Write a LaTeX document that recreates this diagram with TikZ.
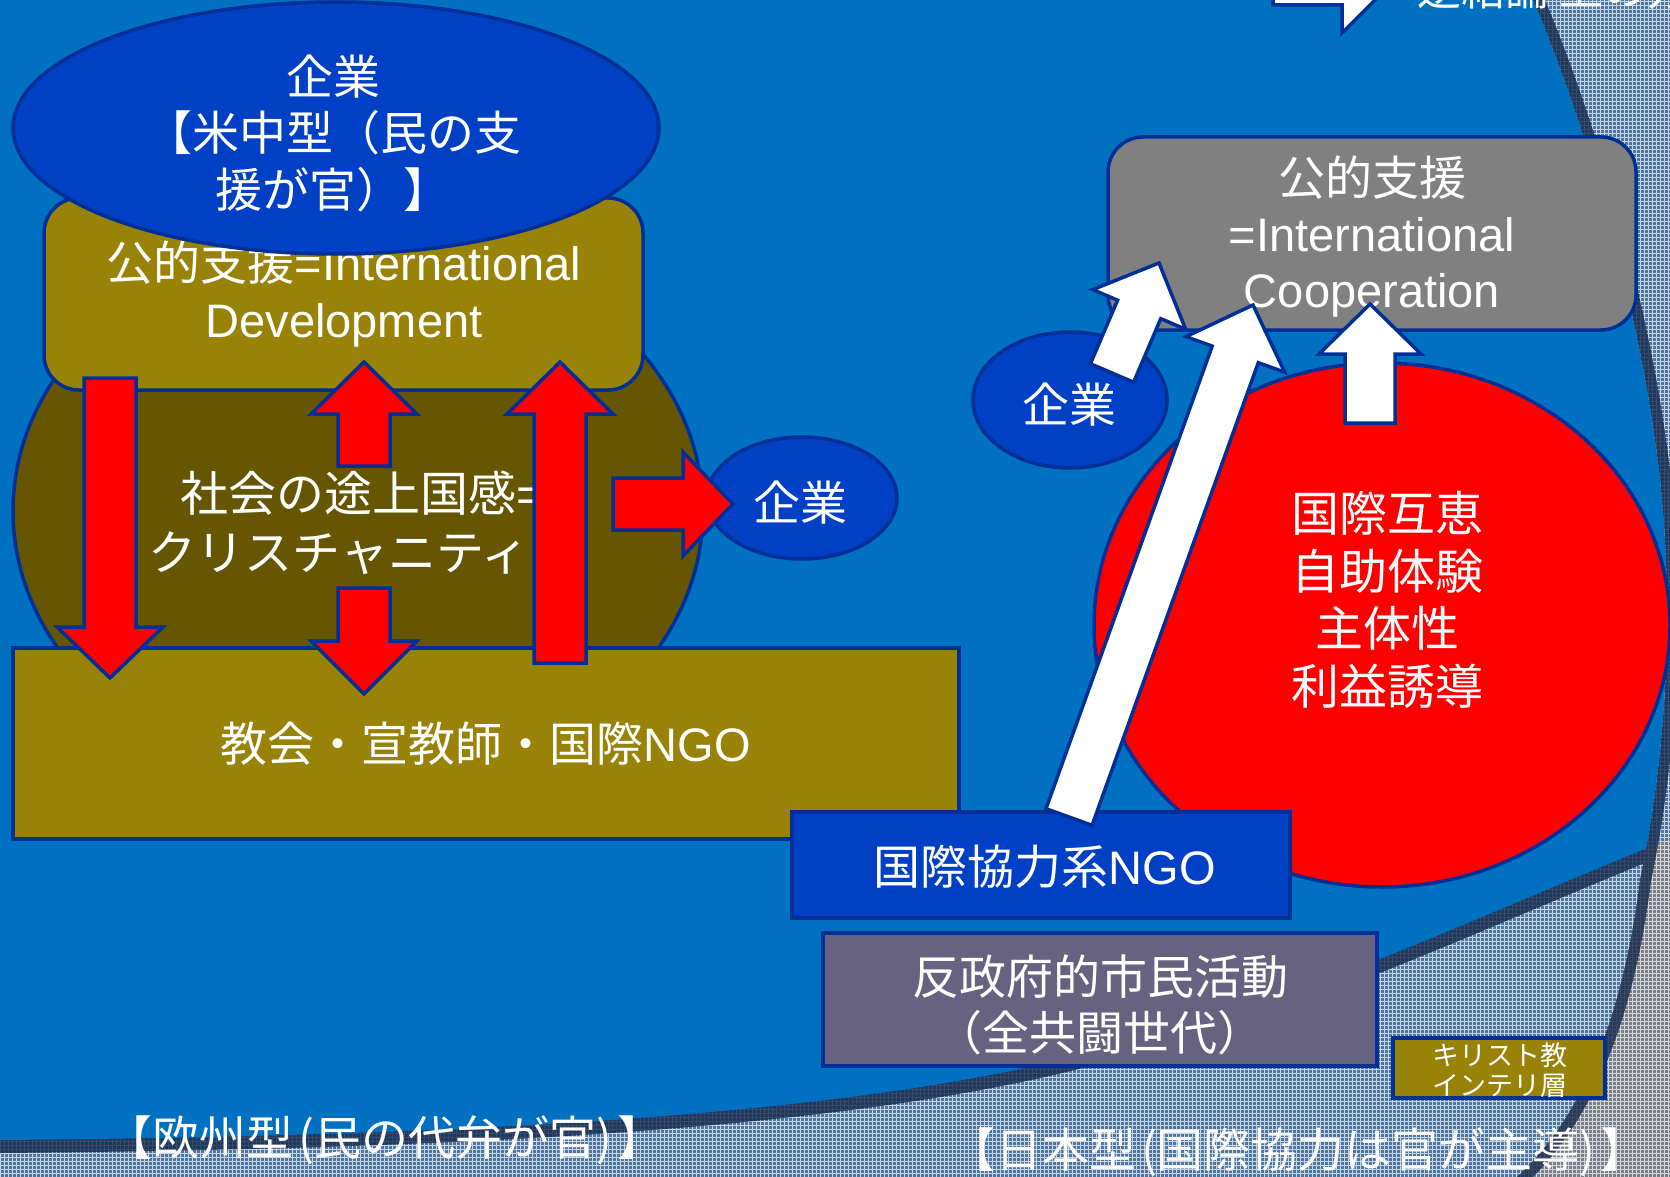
\documentclass[tikz,border=0pt]{standalone}
\usepackage{fontspec}
\setmainfont{Liberation Sans}
\newfontfamily\cjk{Noto Sans CJK JP}
\usetikzlibrary{shapes.geometric,calc,patterns}

\definecolor{bgblue}{RGB}{0,112,192}
\definecolor{navy}{RGB}{0,48,150}
\definecolor{ellblue}{RGB}{0,64,196}
\definecolor{olive}{RGB}{153,130,8}
\definecolor{darkolive}{RGB}{102,86,2}
\definecolor{boxgray}{RGB}{128,128,128}
\definecolor{slate}{RGB}{102,98,128}
\definecolor{hbase}{RGB}{78,118,160}
\definecolor{hline}{RGB}{200,214,228}
\definecolor{gbase}{RGB}{122,128,136}
\definecolor{gline}{RGB}{214,214,218}
\definecolor{shadowc}{RGB}{20,40,75}

\pgfdeclarepatternformonly{finegrid}{\pgfqpoint{-1pt}{-1pt}}{\pgfqpoint{5pt}{5pt}}{\pgfqpoint{4pt}{4pt}}{%
  \pgfsetlinewidth{0.9pt}%
  \pgfpathmoveto{\pgfqpoint{0pt}{-0.1pt}}\pgfpathlineto{\pgfqpoint{0pt}{4.1pt}}%
  \pgfpathmoveto{\pgfqpoint{-0.1pt}{0pt}}\pgfpathlineto{\pgfqpoint{4.1pt}{0pt}}%
  \pgfusepath{stroke}}

% block arrow: #1 style, #2 tail, #3 tip, #4 shaft half, #5 head half, #6 head length
\newcommand\blockarr[6]{%
  \coordinate (#2h) at ($(#3)!#6pt!(#2)$);
  \draw[#1] ($(#2)!#4pt!90:(#3)$) -- ($(#2h)!#4pt!90:(#3)$) -- ($(#2h)!#5pt!90:(#3)$)
    -- (#3) -- ($(#2h)!#5pt!-90:(#3)$) -- ($(#2h)!#4pt!-90:(#3)$) -- ($(#2)!#4pt!-90:(#3)$) -- cycle;}

\begin{document}
\begin{tikzpicture}[x=1pt,y=-1pt,
  outl/.style={draw=navy, line width=3.5},
  wtxt/.style={text=white, inner sep=0pt, align=center},
  redarr/.style={fill=red, draw=navy, line width=3.5, line join=miter},
  whitearr/.style={fill=white, draw=navy, line width=3.5, line join=miter},
  hatchblue/.style={preaction={fill=hbase}, pattern=finegrid, pattern color=hline},
  hatchgray/.style={preaction={fill=gbase}, pattern=finegrid, pattern color=gline},
  band/.style={draw=shadowc, draw opacity=0.8, line width=26},
  shapebox/.style={rectangle, inner sep=0pt, outl},
  shapeell/.style={ellipse, inner sep=0pt, outl}]
\useasboundingbox (0,0) rectangle (1670,1177);
\def\pRline{(1520,-40) -- (1533,0) .. controls (1580,110) and (1640,300) .. (1660,480)
  .. controls (1675,620) and (1665,760) .. (1640,880)
  .. controls (1625,1000) and (1590,1110) .. (1517,1177) -- (1480,1230)}
\def\pBline{(-40,1141) -- (0,1140) .. controls (450,1136) and (850,1118) .. (1100,1050)
  .. controls (1300,1005) and (1500,905) .. (1700,827) -- (1760,800)}
\def\pBlue{(-60,-60) -- (1520,-60) -- (1520,-40) -- (1533,0) .. controls (1580,110) and (1640,300) .. (1660,480)
  .. controls (1675,620) and (1665,760) .. (1640,880)
  .. controls (1625,1000) and (1590,1110) .. (1517,1177) -- (1480,1230) -- (-60,1240) -- cycle}
\def\pAbove{(-60,-60) -- (-60,1141) -- (0,1140) .. controls (450,1136) and (850,1118) .. (1100,1050)
  .. controls (1300,1005) and (1500,905) .. (1700,827) -- (1760,800) -- (1760,-60) -- cycle}
\begin{scope}
\clip (0,0) rectangle (1670,1177);
% ---------- background ----------
\path[hatchgray] (0,0) rectangle (1670,1177);
\path[hatchblue] \pBlue;
\path[hatchblue] \pAbove;
\begin{scope}[even odd rule]
  \clip (-100,-100) rectangle (1800,1300) \pBlue;
  \draw[band, line width=22] \pRline;
\end{scope}
\begin{scope}
  \clip \pBlue;
  \draw[band] \pBline;
\end{scope}
\begin{scope}
  \clip \pAbove;
  \fill[bgblue] \pBlue;
\end{scope}

% ---------- top cut arrow and text ----------
\coordinate (tat) at (1273,-25);
\coordinate (tap) at (1400,-25);
\blockarr{whitearr}{tat}{tap}{30}{58}{58}
\node[text=white, inner sep=0pt, anchor=base west, font=\fontsize{44}{44}\selectfont\cjk] (toptxt) at (1417,6) {逆結論 上の方};

% ---------- left (European / US-China) panel ----------
\node[shapeell, fill=darkolive, minimum width=690, minimum height=556] (midell) at (358,511) {};
\node[shapebox, rounded corners=35, fill=olive, minimum width=599, minimum height=192] (devbox) at (343.5,294) {};
\node[wtxt, font=\fontsize{47}{57}\selectfont] (devtxt) at (344,294) {{\cjk 公的支援}=International\\Development};
\node[shapeell, fill=ellblue, minimum width=646, minimum height=252] (topell) at (336,128) {};
\node[wtxt, font=\fontsize{47}{56.5}\selectfont\cjk] (topelltxt) at (333,133) {企業\\【米中型（民の支\\援が官）】};
\node[wtxt, font=\fontsize{48}{59}\selectfont] (midtxt) at (363,523) {{\cjk 社会の途上国感}=\\{\cjk クリスチャニティー}};
\node[shapebox, fill=olive, minimum width=946, minimum height=191] (churchbox) at (486,743.5) {};
\node[wtxt, font=\fontsize{47}{56}\selectfont] (churchtxt) at (486,744) {{\cjk 教会・宣教師・国際}NGO};
\node[shapeell, fill=ellblue, minimum width=190, minimum height=122] (kigyoL) at (802,498) {};
\node[wtxt, font=\fontsize{47}{56}\selectfont\cjk] (kigyoLtxt) at (800,503) {企業};

% red arrows
\coordinate (aat) at (110,378);  \coordinate (aap) at (110,678);
\coordinate (abt) at (364,466);  \coordinate (abp) at (364,362);
\coordinate (act) at (364,588);  \coordinate (acp) at (364,694);
\coordinate (adt) at (560,663);  \coordinate (adp) at (560,362);
\coordinate (aet) at (613,504);  \coordinate (aep) at (733,504);
\blockarr{redarr}{aat}{aap}{26}{53}{51}
\blockarr{redarr}{abt}{abp}{26}{53}{52}
\blockarr{redarr}{act}{acp}{26}{53}{53}
\blockarr{redarr}{adt}{adp}{26}{53}{52}
\blockarr{redarr}{aet}{aep}{26}{52}{50}

% ---------- right (Japanese) panel ----------
\node[shapebox, rounded corners=35, fill=boxgray, minimum width=528, minimum height=193] (coopbox) at (1372,233.5) {};
\node[wtxt, font=\fontsize{47}{56}\selectfont] (cooptxt) at (1372,237) {{\cjk 公的支援}\\=International\\Cooperation};
\node[shapeell, fill=ellblue, minimum width=194, minimum height=136] (kigyoR) at (1070,400) {};
\node[wtxt, font=\fontsize{47}{56}\selectfont\cjk] (kigyoRtxt) at (1069,405) {企業};
\node[shapeell, fill=red, minimum width=576, minimum height=524] (redell) at (1382,625) {};
\node[wtxt, font=\fontsize{48}{57.5}\selectfont\cjk] (redtxt) at (1387,600) {国際互恵\\自助体験\\主体性\\利益誘導};
\node[shapebox, fill=ellblue, minimum width=498, minimum height=106] (ngobox) at (1041,865) {};
\node[wtxt, font=\fontsize{47}{56}\selectfont] (ngotxt) at (1045,867) {{\cjk 国際協力系}NGO};
\node[shapebox, fill=slate, minimum width=554, minimum height=133] (antibox) at (1100,999.5) {};
\node[wtxt, font=\fontsize{47}{56}\selectfont\cjk] (antitxt) at (1100,1005) {反政府的市民活動\\（全共闘世代）};
\node[shapebox, fill=olive, minimum width=212, minimum height=60] (xbox) at (1499,1068) {};
\node[wtxt, font=\fontsize{27}{30}\selectfont\cjk] (xtxt) at (1500,1070) {キリスト教\\インテリ層};

% white arrows
\coordinate (wat) at (1370,423);  \coordinate (wap) at (1370,304);
\coordinate (wbt) at (1112,373);  \coordinate (wbp) at (1159,263);
\coordinate (wct) at (1069,817);  \coordinate (wcp) at (1253,305);
\blockarr{whitearr}{wat}{wap}{25}{51}{50}
\blockarr{whitearr}{wbt}{wbp}{23.5}{50.5}{50.5}
\blockarr{whitearr}{wct}{wcp}{24.5}{52.5}{52.5}

% ---------- bottom labels ----------
\node[wtxt, font=\fontsize{47}{47}\selectfont\cjk] (eulabel) at (385,1140) {【欧州型\hspace{5pt}(民の代弁が官)\hspace{5pt}】};
\node[wtxt, font=\fontsize{47}{47}\selectfont\cjk] (jplabel) at (1298,1152) {【日本型\hspace{5pt}(国際協力は官が主導)\hspace{5pt}】};
\end{scope}
\end{tikzpicture}
\end{document}
